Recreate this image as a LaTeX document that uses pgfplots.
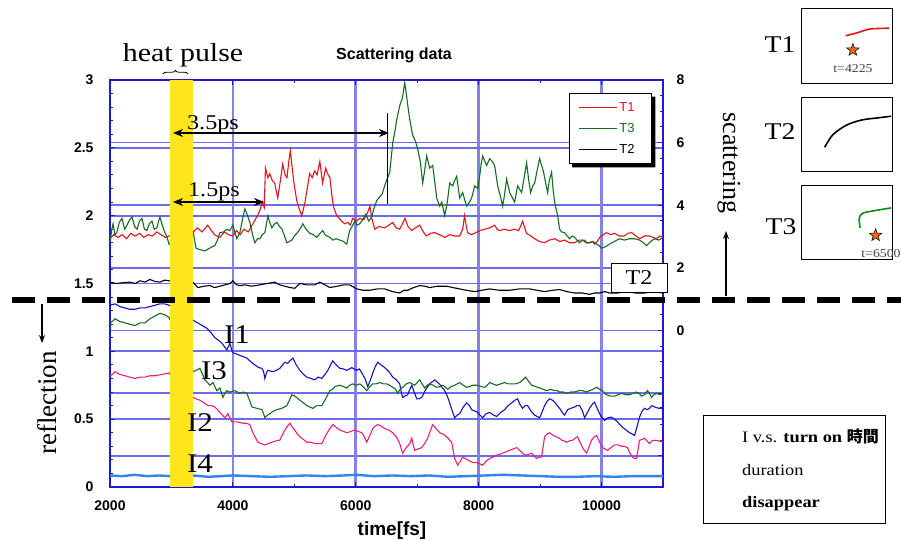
\documentclass[border=0pt]{standalone}
\usepackage{pgfplots}
\pgfplotsset{compat=1.18}
\usepackage{fontspec}
\setmainfont{Liberation Serif}[FakeStretch=1.15]
\newfontfamily\plainserif{Liberation Serif}
\newfontfamily\arial{Liberation Sans}
\newfontfamily\cjk{Noto Sans CJK TC}
\usetikzlibrary{arrows.meta,decorations.pathreplacing}

\definecolor{gridblue}{RGB}{108,108,232}
\definecolor{frameblue}{RGB}{25,25,215}
\definecolor{tred}{RGB}{232,18,26}
\definecolor{tgreen}{RGB}{22,108,30}
\definecolor{iblue}{RGB}{18,18,200}
\definecolor{ipink}{RGB}{236,30,122}
\definecolor{ilight}{RGB}{48,132,235}
\definecolor{pulse}{RGB}{255,230,28}
\definecolor{starorange}{RGB}{242,104,20}

% filled five-pointed star
\pgfdeclareplotmark{fstar}{%
  \pgfpathmoveto{\pgfpointpolar{90}{\pgfplotmarksize}}%
  \pgfpathlineto{\pgfpointpolar{126}{0.42\pgfplotmarksize}}%
  \pgfpathlineto{\pgfpointpolar{162}{\pgfplotmarksize}}%
  \pgfpathlineto{\pgfpointpolar{198}{0.42\pgfplotmarksize}}%
  \pgfpathlineto{\pgfpointpolar{234}{\pgfplotmarksize}}%
  \pgfpathlineto{\pgfpointpolar{270}{0.42\pgfplotmarksize}}%
  \pgfpathlineto{\pgfpointpolar{306}{\pgfplotmarksize}}%
  \pgfpathlineto{\pgfpointpolar{342}{0.42\pgfplotmarksize}}%
  \pgfpathlineto{\pgfpointpolar{18}{\pgfplotmarksize}}%
  \pgfpathlineto{\pgfpointpolar{54}{0.42\pgfplotmarksize}}%
  \pgfpathclose
  \pgfusepathqfillstroke}

\pgfplotsset{
  inset/.style={anchor=south west, scale only axis, width=91pt,
    xmin=0, xmax=1, ymin=0, ymax=1, ticks=none, clip=false,
    axis line style={black, line width=0.8pt}},
  starmark/.style={only marks, mark=fstar, mark size=6.5pt,
    mark options={fill=starorange, draw=black, line width=0.5pt}},
}

\begin{document}
\begin{tikzpicture}[x=1pt,y=1pt]
\path[use as bounding box] (0pt,0pt) rectangle (901pt,540pt);

% scattering scale on the right, with its own grid
\begin{axis}[
  at={(110pt,53pt)}, anchor=south west, scale only axis, width=553pt, height=407pt,
  xmin=2000, xmax=11000, ymin=-5, ymax=8,
  axis x line=none, axis y line*=right,
  axis line style={-}, y axis line style={frameblue, line width=1.8pt, -},
  ytick={-4,-2,0,2,4,6,8}, yticklabels={,,0,2,4,6,8}, minor y tick num=3,
  tick align=inside, major tick length=5pt, minor tick length=3pt,
  every tick/.style={frameblue, line width=1pt},
  ymajorgrids, y grid style={gridblue, line width=1.7pt},
  yticklabel style={font=\arial\bfseries\fontsize{14}{14}\selectfont, xshift=10pt},
]
\end{axis}

% reflection scale and all traces
\begin{axis}[
  at={(110pt,53pt)}, anchor=south west, scale only axis, width=553pt, height=407pt,
  xmin=2000, xmax=11000, ymin=0, ymax=3,
  xtick={2000,4000,6000,8000,10000}, minor x tick num=1,
  ytick={0,0.5,1,1.5,2,2.5,3}, minor y tick num=4,
  xtick pos=both, ytick pos=left,
  scaled x ticks=false,
  /pgf/number format/1000 sep={},
  /pgf/number format/assume math mode=true,
  tick align=inside, major tick length=5pt, minor tick length=3pt,
  every tick/.style={frameblue, line width=1pt},
  axis line style={frameblue, line width=1.8pt},
  xmajorgrids, ymajorgrids,
  x grid style={gridblue!85, line width=2.6pt},
  y grid style={gridblue, line width=1.7pt},
  ticklabel style={font=\arial\bfseries\fontsize{14}{14}\selectfont},
  xticklabel style={yshift=-10pt},
  yticklabel style={xshift=-13pt},
  legend style={name=tlegend, at={(0.98,0.968)}, anchor=north east, draw=black, line width=1.2pt,
    fill=white, font=\arial\fontsize{13}{13}\selectfont,
    row sep=6.5pt, inner xsep=9pt, inner ysep=6.5pt,
    /tikz/every even column/.append style={column sep=10pt}},
  legend cell align=left,
  legend image code/.code={\draw[#1, line width=1pt] (0pt,0pt) -- (38pt,0pt);},
  every axis plot/.append style={line width=1.1pt},
]
% T1
\addplot[tred] coordinates {
(2000,1.83) (2060,1.86) (2130,1.84) (2200,1.86) (2270,1.83) (2340,1.87) (2410,1.85) (2480,1.87)
(2550,1.84) (2620,1.86) (2690,1.85) (2760,1.88) (2830,1.86) (2900,1.84) (2960,1.85) (3350,1.875)
(3420,1.91) (3500,1.88) (3590,1.93) (3650,1.89) (3700,1.86) (3790,1.84) (3860,1.88) (3930,1.86)
(4000,1.85) (4060,1.89) (4120,1.86) (4180,1.90) (4250,1.88) (4300,1.92) (4350,1.96) (4400,2.00)
(4440,2.04) (4480,2.10) (4510,2.06) (4530,2.35) (4570,2.28) (4600,2.31) (4640,2.26) (4680,2.24)
(4730,2.13) (4770,2.25) (4810,2.38) (4850,2.30) (4880,2.28) (4910,2.40) (4935,2.48) (4970,2.33)
(5000,2.22) (5040,2.11) (5080,2.05) (5120,2.00) (5170,2.09) (5210,2.20) (5250,2.31) (5290,2.28)
(5330,2.33) (5370,2.30) (5415,2.40) (5460,2.24) (5510,2.35) (5550,2.30) (5580,2.28) (5610,2.15)
(5640,2.06) (5690,2.00) (5730,1.98) (5770,1.96) (5820,1.94) (5870,1.95) (5910,1.93) (5950,1.98)
(6010,1.96) (6065,1.98) (6130,1.97) (6190,2.02) (6230,2.07) (6260,1.98) (6310,1.90) (6380,1.92)
(6470,1.91) (6540,1.93) (6600,1.95) (6660,1.91) (6715,1.90) (6760,1.94) (6800,1.98) (6850,1.92)
(6910,1.89) (6970,1.91) (7040,1.93) (7100,1.88) (7150,1.85) (7220,1.87) (7285,1.875) (7360,1.86)
(7450,1.84) (7530,1.86) (7610,1.85) (7690,1.85) (7740,1.90) (7770,2.00) (7800,1.92) (7820,1.875)
(7880,1.86) (7935,1.87) (8020,1.89) (8100,1.90) (8180,1.91) (8260,1.93) (8300,1.90) (8340,1.89)
(8420,1.90) (8500,1.89) (8590,1.90) (8650,1.89) (8690,1.93) (8715,1.96) (8750,1.91) (8780,1.87)
(8850,1.85) (8910,1.83) (8990,1.81) (9070,1.80) (9150,1.82) (9240,1.83) (9320,1.81) (9400,1.82)
(9480,1.80) (9560,1.80) (9630,1.82) (9690,1.82) (9750,1.80) (9800,1.80) (9850,1.81) (9890,1.79)
(9930,1.81) (9970,1.84) (10030,1.86) (10080,1.875) (10150,1.86) (10210,1.87) (10290,1.85)
(10370,1.85) (10430,1.87) (10490,1.875) (10560,1.85) (10620,1.83) (10700,1.85) (10780,1.85)
(10840,1.84) (10890,1.83) (10950,1.85) (11000,1.84)
};
\addlegendentry{\makebox[21pt][l]{\textcolor{tred}{T1}}}
% T3
\addplot[tgreen] coordinates {
(2000,1.80) (2030,1.90) (2050,1.94) (2080,1.86) (2110,1.875) (2150,1.95) (2195,1.98) (2240,1.90)
(2276,1.93) (2320,1.97) (2358,1.99) (2400,1.92) (2440,1.90) (2480,1.96) (2520,1.98) (2560,1.90)
(2600,1.89) (2640,1.94) (2683,1.96) (2720,1.90) (2764,1.91) (2790,1.96) (2813,1.99) (2850,1.93)
(2894,1.875) (2930,1.84) (2960,1.79) (3350,1.89) (3400,1.76) (3460,1.75) (3545,1.74) (3620,1.76)
(3707,1.78) (3750,1.82) (3789,1.875) (3850,1.88) (3902,1.90) (3950,1.89) (4000,1.93) (4030,1.88)
(4065,1.83) (4114,1.875) (4160,1.98) (4195,2.05) (4240,2.00) (4276,1.95) (4320,1.86) (4358,1.80)
(4400,1.83) (4440,1.83) (4480,1.86) (4520,1.875) (4570,2.00) (4600,1.95) (4634,1.91) (4680,1.94)
(4715,1.95) (4760,1.92) (4800,1.90) (4840,1.85) (4878,1.80) (4920,1.81) (4960,1.82) (5000,1.85)
(5041,1.87) (5090,1.90) (5138,1.94) (5190,1.90) (5250,1.87) (5310,1.86) (5366,1.84) (5420,1.87)
(5463,1.89) (5500,1.86) (5528,1.85) (5580,1.84) (5626,1.82) (5680,1.83) (5740,1.82) (5800,1.81)
(5854,1.79) (5880,1.85) (5902,1.89) (5940,1.92) (5984,1.96) (6020,1.93) (6065,1.94) (6110,1.97)
(6163,2.01) (6210,1.96) (6260,1.99) (6300,2.06) (6340,2.11) (6390,2.14) (6430,2.16) (6470,2.22)
(6500,2.26) (6553,2.32) (6602,2.54) (6640,2.63) (6667,2.71) (6715,2.81) (6760,2.87) (6797,2.98)
(6830,2.87) (6850,2.80) (6878,2.71) (6927,2.59) (6970,2.55) (7008,2.49) (7050,2.40) (7089,2.24)
(7120,2.33) (7154,2.44) (7203,2.35) (7252,2.37) (7285,2.25) (7317,2.13) (7366,2.07) (7400,2.10)
(7447,2.00) (7490,2.10) (7528,2.24) (7577,2.22) (7610,2.26) (7642,2.29) (7691,2.13) (7740,2.17)
(7770,2.12) (7805,2.07) (7850,2.10) (7886,2.13) (7935,2.22) (7984,2.20) (8016,2.29) (8040,2.38)
(8065,2.44) (8100,2.40) (8130,2.37) (8179,2.42) (8220,2.40) (8260,2.37) (8309,2.22) (8350,2.15)
(8390,2.07) (8420,2.15) (8455,2.27) (8504,2.17) (8540,2.14) (8585,2.10) (8634,2.22) (8699,2.17)
(8740,2.28) (8780,2.39) (8815,2.26) (8846,2.17) (8880,2.22) (8911,2.24) (8950,2.33) (8992,2.42)
(9057,2.32) (9090,2.24) (9122,2.17) (9150,2.26) (9187,2.32) (9210,2.20) (9236,2.10) (9285,2.00)
(9317,1.90) (9350,1.88) (9398,1.875) (9440,1.85) (9480,1.83) (9520,1.85) (9561,1.84) (9600,1.82)
(9642,1.80) (9690,1.82) (9724,1.82) (9760,1.80) (9805,1.80) (9860,1.81) (9919,1.79) (9960,1.78)
(10000,1.76) (10060,1.77) (10130,1.79) (10210,1.81) (10293,1.83) (10370,1.82) (10455,1.83)
(10540,1.83) (10618,1.82) (10680,1.80) (10732,1.78) (10800,1.81) (10862,1.83) (10930,1.82) (11000,1.84)
};
\addlegendentry{\makebox[21pt][l]{\textcolor{tgreen}{T3}}}
% T2
\addplot[black] coordinates {
(2000,1.51) (2100,1.50) (2200,1.505) (2325,1.51) (2410,1.50) (2490,1.52) (2570,1.51) (2650,1.53)
(2730,1.515) (2813,1.51) (2890,1.525) (2960,1.52) (3350,1.51) (3430,1.47) (3530,1.48) (3626,1.485)
(3700,1.47) (3789,1.48) (3870,1.49) (3951,1.50) (4000,1.52) (4060,1.49) (4114,1.485) (4200,1.49)
(4300,1.48) (4440,1.49) (4560,1.50) (4683,1.51) (4760,1.49) (4846,1.48) (4930,1.47) (5008,1.465)
(5089,1.50) (5200,1.49) (5333,1.49) (5415,1.51) (5500,1.49) (5577,1.47) (5700,1.48) (5800,1.49)
(5902,1.49) (6016,1.46) (6120,1.45) (6228,1.45) (6350,1.46) (6472,1.46) (6600,1.44) (6715,1.43)
(6780,1.45) (6845,1.45) (6940,1.47) (7041,1.485) (7120,1.48) (7203,1.47) (7330,1.48) (7480,1.48)
(7580,1.47) (7691,1.46) (7800,1.45) (7935,1.44) (8050,1.45) (8179,1.46) (8340,1.45) (8504,1.45)
(8660,1.46) (8829,1.46) (8950,1.45) (9073,1.44) (9200,1.45) (9317,1.455) (9440,1.44) (9561,1.43)
(9690,1.43) (9805,1.42) (9890,1.43) (9967,1.43) (10050,1.44) (10130,1.43) (10260,1.43) (10400,1.44)
(10550,1.43) (10700,1.43) (10850,1.44) (11000,1.43)
};
\addlegendentry{\makebox[21pt][l]{\textcolor{black}{T2}}}
% I1
\addplot[iblue, forget plot] coordinates {
(2000,1.34) (2081,1.35) (2160,1.33) (2244,1.32) (2320,1.31) (2407,1.31) (2490,1.32) (2569,1.32)
(2650,1.33) (2732,1.34) (2813,1.35) (2890,1.35) (2960,1.34) (3350,1.23) (3463,1.20) (3577,1.17)
(3640,1.14) (3707,1.10) (3770,1.08) (3821,1.06) (3870,1.03) (3902,1.01) (3930,1.04) (3951,1.06)
(3975,1.02) (4000,0.99) (4060,0.98) (4114,0.97) (4170,0.96) (4228,0.95) (4300,0.92) (4358,0.90)
(4420,0.88) (4472,0.875) (4500,0.85) (4520,0.80) (4545,0.84) (4569,0.86) (4650,0.85) (4710,0.86)
(4764,0.875) (4810,0.90) (4846,0.92) (4890,0.91) (4927,0.93) (4976,0.95) (5030,0.90) (5089,0.86)
(5150,0.83) (5203,0.81) (5270,0.80) (5333,0.79) (5390,0.81) (5447,0.80) (5500,0.83) (5545,0.86)
(5590,0.90) (5626,0.93) (5680,0.90) (5740,0.875) (5800,0.87) (5854,0.86) (5935,0.88) (6016,0.86)
(6060,0.87) (6098,0.84) (6150,0.80) (6195,0.74) (6240,0.79) (6276,0.84) (6320,0.89) (6358,0.92)
(6410,0.90) (6472,0.88) (6540,0.85) (6602,0.81) (6660,0.79) (6715,0.76) (6740,0.70) (6764,0.66)
(6800,0.67) (6845,0.68) (6880,0.72) (6911,0.75) (6950,0.70) (6992,0.65) (7030,0.65) (7073,0.66)
(7140,0.72) (7203,0.76) (7285,0.79) (7360,0.76) (7447,0.71) (7490,0.67) (7528,0.62) (7570,0.56)
(7610,0.51) (7650,0.53) (7691,0.54) (7750,0.59) (7805,0.62) (7850,0.60) (7886,0.57) (7935,0.56)
(7984,0.55) (8020,0.53) (8065,0.51) (8120,0.54) (8179,0.55) (8240,0.53) (8293,0.52) (8360,0.55)
(8423,0.57) (8480,0.60) (8537,0.62) (8590,0.64) (8634,0.65) (8670,0.61) (8715,0.58) (8760,0.60)
(8797,0.60) (8850,0.56) (8911,0.53) (8950,0.52) (8992,0.51) (9030,0.55) (9073,0.60) (9110,0.63)
(9154,0.65) (9200,0.64) (9236,0.625) (9280,0.60) (9317,0.58) (9360,0.55) (9398,0.53) (9447,0.57)
(9500,0.58) (9561,0.59) (9600,0.60) (9642,0.60) (9690,0.56) (9724,0.51) (9770,0.55) (9805,0.58)
(9850,0.61) (9886,0.625) (9930,0.58) (9967,0.54) (10010,0.51) (10049,0.49) (10100,0.51) (10163,0.515)
(10210,0.50) (10260,0.48) (10300,0.46) (10341,0.44) (10400,0.42) (10455,0.40) (10500,0.39)
(10537,0.38) (10580,0.45) (10618,0.515) (10660,0.56) (10699,0.58) (10740,0.57) (10780,0.58)
(10820,0.60) (10862,0.59) (10930,0.58) (11000,0.59)
};
% I3
\addplot[tgreen, forget plot] coordinates {
(2000,1.21) (2040,1.22) (2081,1.24) (2160,1.22) (2244,1.21) (2320,1.20) (2407,1.19) (2490,1.21)
(2569,1.21) (2650,1.24) (2732,1.26) (2813,1.28) (2890,1.27) (2960,1.25) (3350,0.85) (3400,0.86)
(3463,0.875) (3545,0.79) (3626,0.75) (3675,0.77) (3740,0.71) (3789,0.73) (3837,0.66) (3870,0.69)
(3902,0.71) (3951,0.70) (4033,0.71) (4114,0.69) (4170,0.70) (4228,0.69) (4270,0.64) (4309,0.59)
(4390,0.58) (4472,0.57) (4500,0.54) (4520,0.51) (4560,0.53) (4602,0.54) (4660,0.56) (4715,0.57)
(4797,0.58) (4878,0.60) (4920,0.64) (4959,0.68) (5008,0.67) (5089,0.64) (5150,0.62) (5203,0.60)
(5250,0.59) (5301,0.58) (5366,0.60) (5447,0.60) (5510,0.65) (5577,0.71) (5620,0.72) (5659,0.74)
(5740,0.75) (5800,0.74) (5854,0.73) (5900,0.75) (5951,0.76) (6010,0.75) (6065,0.76) (6120,0.74)
(6179,0.71) (6230,0.74) (6276,0.76) (6330,0.76) (6390,0.77) (6450,0.76) (6504,0.76) (6550,0.75)
(6602,0.735) (6650,0.72) (6683,0.69) (6720,0.72) (6764,0.735) (6820,0.76) (6878,0.77) (6920,0.76)
(6959,0.75) (7000,0.77) (7041,0.79) (7080,0.76) (7122,0.73) (7160,0.75) (7203,0.76) (7260,0.75)
(7317,0.735) (7370,0.74) (7415,0.75) (7450,0.74) (7496,0.72) (7550,0.74) (7610,0.75) (7650,0.76)
(7691,0.77) (7750,0.75) (7805,0.735) (7850,0.74) (7902,0.75) (7984,0.75) (8040,0.74) (8098,0.735)
(8140,0.75) (8179,0.77) (8230,0.76) (8293,0.75) (8360,0.76) (8423,0.77) (8480,0.76) (8537,0.76)
(8600,0.76) (8667,0.77) (8720,0.79) (8764,0.81) (8810,0.78) (8862,0.75) (8930,0.74) (8992,0.73)
(9050,0.72) (9106,0.71) (9170,0.72) (9236,0.71) (9280,0.71) (9317,0.70) (9380,0.70) (9431,0.69)
(9500,0.70) (9561,0.70) (9630,0.71) (9691,0.71) (9750,0.70) (9805,0.71) (9860,0.72) (9919,0.735)
(9970,0.72) (10016,0.71) (10050,0.69) (10081,0.68) (10150,0.67) (10211,0.67) (10270,0.68)
(10325,0.69) (10390,0.68) (10455,0.68) (10510,0.69) (10569,0.70) (10610,0.69) (10650,0.67)
(10700,0.68) (10748,0.71) (10780,0.69) (10813,0.66) (10850,0.68) (10894,0.69) (10950,0.68) (11000,0.69)
};
% I2
\addplot[ipink, forget plot] coordinates {
(2000,0.82) (2040,0.83) (2081,0.85) (2160,0.83) (2244,0.82) (2320,0.81) (2407,0.80) (2490,0.81)
(2569,0.81) (2650,0.82) (2732,0.82) (2850,0.83) (2960,0.84) (3350,0.66) (3400,0.65) (3463,0.64)
(3530,0.62) (3593,0.60) (3650,0.60) (3707,0.59) (3750,0.57) (3789,0.55) (3830,0.53) (3870,0.51)
(3919,0.54) (3950,0.51) (3984,0.48) (4065,0.48) (4163,0.47) (4220,0.47) (4276,0.46) (4300,0.43)
(4325,0.40) (4360,0.37) (4406,0.33) (4460,0.32) (4520,0.31) (4580,0.32) (4634,0.33) (4700,0.34)
(4764,0.345) (4800,0.38) (4846,0.42) (4890,0.45) (4927,0.47) (4970,0.44) (5008,0.42) (5050,0.39)
(5089,0.37) (5150,0.35) (5203,0.33) (5270,0.33) (5333,0.32) (5390,0.32) (5447,0.32) (5510,0.38)
(5577,0.43) (5626,0.46) (5680,0.44) (5740,0.42) (5800,0.41) (5854,0.40) (5920,0.41) (5984,0.42)
(6040,0.41) (6098,0.40) (6140,0.37) (6179,0.33) (6230,0.38) (6276,0.43) (6320,0.45) (6358,0.46)
(6410,0.45) (6472,0.43) (6540,0.42) (6602,0.40) (6660,0.37) (6715,0.32) (6740,0.28) (6764,0.25)
(6820,0.29) (6878,0.32) (6911,0.36) (6935,0.31) (6959,0.27) (7010,0.28) (7073,0.29) (7120,0.32)
(7171,0.36) (7210,0.41) (7252,0.46) (7310,0.43) (7366,0.40) (7420,0.39) (7480,0.37) (7561,0.33)
(7585,0.27) (7610,0.21) (7640,0.18) (7659,0.16) (7700,0.19) (7740,0.22) (7780,0.21) (7821,0.20)
(7860,0.19) (7902,0.18) (7984,0.18) (8020,0.17) (8065,0.16) (8120,0.19) (8179,0.21) (8230,0.22)
(8293,0.235) (8340,0.24) (8390,0.25) (8450,0.26) (8504,0.27) (8560,0.28) (8618,0.29) (8667,0.27)
(8710,0.25) (8764,0.235) (8810,0.24) (8862,0.25) (8900,0.23) (8943,0.21) (8990,0.22) (9024,0.22)
(9050,0.30) (9073,0.37) (9110,0.39) (9154,0.40) (9210,0.38) (9268,0.37) (9310,0.36) (9350,0.345)
(9390,0.34) (9431,0.33) (9480,0.34) (9528,0.345) (9570,0.36) (9610,0.37) (9650,0.33) (9691,0.29)
(9720,0.27) (9756,0.25) (9800,0.30) (9837,0.345) (9880,0.37) (9919,0.38) (9970,0.33) (10016,0.29)
(10060,0.28) (10098,0.27) (10150,0.29) (10211,0.31) (10270,0.31) (10325,0.30) (10370,0.30)
(10423,0.29) (10460,0.25) (10504,0.22) (10540,0.21) (10569,0.21) (10595,0.28) (10618,0.345)
(10660,0.35) (10699,0.36) (10740,0.34) (10780,0.32) (10820,0.34) (10862,0.345) (10930,0.34) (11000,0.33)
};
% I4
\addplot[ilight, line width=2.4pt, forget plot] coordinates {
(2000,0.085) (2200,0.08) (2400,0.09) (2600,0.08) (2800,0.085) (2960,0.08) (3350,0.085) (3600,0.075)
(3800,0.08) (4000,0.085) (4300,0.08) (4600,0.075) (4900,0.08) (5200,0.085) (5500,0.08) (5800,0.085)
(6000,0.09) (6300,0.08) (6600,0.085) (6900,0.08) (7200,0.085) (7500,0.075) (7800,0.08) (8100,0.085)
(8400,0.09) (8700,0.085) (9000,0.08) (9300,0.075) (9600,0.075) (9900,0.08) (10200,0.075)
(10500,0.08) (10800,0.08) (11000,0.08)
};
% heat pulse window
\addplot[fill=pulse, draw=none, forget plot] coordinates {
(2980,0) (3350,0) (3350,3) (2980,3)} -- cycle;
\end{axis}

% shadow along the right and lower edges of the legend box
\fill[black] ([yshift=-3.5pt]tlegend.north east) -- ([xshift=3.5pt, yshift=-3.5pt]tlegend.north east)
  -- ([xshift=3.5pt, yshift=-3.5pt]tlegend.south east) -- ([xshift=3.5pt, yshift=-3.5pt]tlegend.south west)
  -- ([xshift=3.5pt]tlegend.south west) -- (tlegend.south east) -- cycle;

% titles and axis name
\node[font=\fontsize{26}{26}\selectfont] at (183,485) {heat pulse};
\draw[decorate, decoration={brace, amplitude=3.5pt}, line width=0.8pt] (163,466) -- (188,466);
\node[font=\arial\bfseries\fontsize{16}{16}\selectfont] at (394,485) {Scattering data};
\node[font=\arial\bfseries\fontsize{19}{19}\selectfont, anchor=base] at (392,4) {time[fs]};

% delay arrows
\draw[line width=2.2pt, {Stealth[length=10pt,width=8pt]}-{Stealth[length=10pt,width=8pt]}] (173,407) -- (389,407);
\draw[line width=0.9pt] (387,427) -- (387,336);
\draw[line width=2.2pt, {Stealth[length=10pt,width=8pt]}-{Stealth[length=10pt,width=8pt]}] (173,338) -- (264,338);
\node[anchor=base, font=\fontsize{21}{21}\selectfont] at (213,410) {3.5ps};
\node[anchor=base, font=\fontsize{21}{21}\selectfont] at (214,343) {1.5ps};

% reflection trace names
\node[font=\fontsize{27}{27}\selectfont] at (237,205) {I1};
\node[font=\fontsize{27}{27}\selectfont] at (214,169) {I3};
\node[font=\fontsize{27}{27}\selectfont] at (200,117) {I2};
\node[font=\fontsize{27}{27}\selectfont] at (200,76) {I4};

\node[draw=black, fill=white, line width=0.8pt, minimum width=56pt, minimum height=29pt,
  inner sep=0pt, font=\fontsize{21}{21}\selectfont] at (639,262.5) {T2};

% divider between the two signals
\draw[line width=5.5pt, dash pattern=on 23pt off 12pt] (12,240) -- (901,240);
\draw[line width=1.1pt, -{Stealth[length=8pt,width=6pt]}] (42,236) -- (42,197);
\node[rotate=90, font=\plainserif\fontsize{27}{27}\selectfont] at (47,137) {reflection};
\draw[line width=1.1pt, -{Stealth[length=8pt,width=6pt]}] (726,244) -- (726,309);
\node[rotate=-90, font=\plainserif\fontsize{26}{26}\selectfont] at (729,377) {scattering};

% trajectory sketches
\node[font=\fontsize{24}{24}\selectfont] at (780,495) {T1};
\node[font=\fontsize{24}{24}\selectfont] at (780,408) {T2};
\node[font=\fontsize{24}{24}\selectfont] at (781,313) {T3};

\begin{axis}[inset, at={(801pt,457pt)}, height=75pt]
\addplot[tred, line width=1.6pt, smooth] coordinates {(0.49,0.63) (0.62,0.67) (0.76,0.72) (0.97,0.73)};
\addplot[starmark] coordinates {(0.57,0.44)};
\end{axis}
\node[font=\fontsize{12}{12}\selectfont, text=black!75] at (853,471) {t=4225};

\begin{axis}[inset, at={(801pt,369pt)}, height=74pt]
\addplot[black, line width=1.6pt, smooth] coordinates {(0.26,0.32) (0.35,0.49) (0.50,0.62) (0.67,0.69) (0.86,0.72) (0.99,0.74)};
\end{axis}

\begin{axis}[inset, at={(801pt,281pt)}, height=74pt]
\addplot[tgreen!80!green, line width=1.6pt, smooth] coordinates {(0.65,0.42) (0.64,0.55) (0.68,0.62) (0.84,0.66) (0.99,0.69)};
\addplot[starmark] coordinates {(0.82,0.32)};
\end{axis}
\node[font=\fontsize{12}{12}\selectfont, text=black!75] at (881,286) {t=6500};

% notes
\draw[line width=0.8pt] (703,17) rectangle (885,125);
\node[anchor=base west, font=\fontsize{16}{16}\selectfont, inner sep=0pt] at (742,97) {I v.s. \textbf{turn on} {\cjk\bfseries 時間}};
\node[anchor=base west, font=\fontsize{16}{16}\selectfont, inner sep=0pt] at (742,64) {duration};
\node[anchor=base west, font=\fontsize{16}{16}\selectfont, inner sep=0pt] at (742,32) {\textbf{disappear}};
\end{tikzpicture}
\end{document}
